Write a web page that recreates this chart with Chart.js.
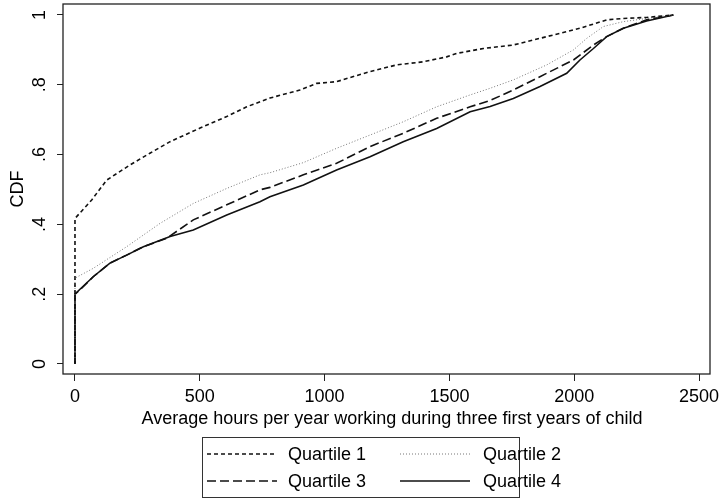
<!DOCTYPE html>
<html>
<head>
<meta charset="utf-8">
<script src="https://cdn.jsdelivr.net/npm/chart.js@4.4.1/dist/chart.umd.min.js"></script>
<style>
  html, body { margin: 0; padding: 0; background: #fff; }
</style>
</head>
<body>
<canvas id="cdfChart" width="719" height="498"></canvas>
<script>
// axis ticks
const xTicks = [0, 500, 1000, 1500, 2000, 2500];
const yTicks = [0, 0.2, 0.4, 0.6, 0.8, 1];
const seriesNames = ['Quartile 1', 'Quartile 2', 'Quartile 3', 'Quartile 4'];
const xTitle = 'Average hours per year working during three first years of child';
const yTitle = 'CDF';

// CDF curves
const q1X = [0, 0, 67, 127, 220, 300, 381, 501, 608, 688, 781, 901, 968, 1048, 1182, 1289, 1396, 1489, 1529, 1636, 1756, 1890, 2023, 2130, 2196, 2290, 2397];
const q1Y = [0, 0.417, 0.47, 0.527, 0.57, 0.604, 0.637, 0.676, 0.709, 0.737, 0.762, 0.785, 0.804, 0.809, 0.838, 0.857, 0.866, 0.88, 0.89, 0.904, 0.914, 0.938, 0.962, 0.986, 0.99, 0.993, 1.0];

const q2X = [0, 0, 73, 207, 341, 474, 608, 741, 781, 915, 1048, 1182, 1315, 1449, 1583, 1663, 1756, 1890, 1997, 2050, 2117, 2197, 2290, 2397];
const q2Y = [0, 0.246, 0.274, 0.336, 0.403, 0.46, 0.503, 0.542, 0.548, 0.577, 0.618, 0.656, 0.694, 0.737, 0.771, 0.79, 0.814, 0.857, 0.9, 0.933, 0.967, 0.981, 0.99, 1.0];

const q3X = [0, 0, 20, 73, 140, 207, 274, 367, 474, 608, 741, 781, 915, 1048, 1182, 1315, 1449, 1583, 1663, 1756, 1890, 1997, 2077, 2130, 2197, 2290, 2397];
const q3Y = [0, 0.2, 0.212, 0.25, 0.289, 0.312, 0.336, 0.36, 0.413, 0.456, 0.499, 0.506, 0.542, 0.575, 0.623, 0.661, 0.704, 0.737, 0.755, 0.785, 0.833, 0.871, 0.914, 0.938, 0.962, 0.986, 1.0];

const q4X = [0, 0, 20, 73, 140, 207, 274, 381, 474, 608, 741, 781, 915, 968, 1048, 1182, 1315, 1449, 1583, 1663, 1756, 1863, 1970, 2023, 2077, 2130, 2197, 2290, 2397];
const q4Y = [0, 0.2, 0.214, 0.25, 0.289, 0.312, 0.336, 0.365, 0.384, 0.427, 0.465, 0.479, 0.513, 0.53, 0.556, 0.594, 0.637, 0.675, 0.723, 0.738, 0.761, 0.795, 0.833, 0.871, 0.904, 0.938, 0.962, 0.983, 1.0];

const FONT = '"Liberation Sans", Arial, Helvetica, sans-serif';

function toPoints(xs, ys) {
  return xs.map((x, i) => ({ x: x, y: ys[i] }));
}

function fmtY(v) {
  if (v === 0) return '0';
  if (v === 1) return '1';
  return String(+v.toFixed(1)).replace('0.', '.');
}

// frame, rotated y labels, axis titles and the boxed legend
const extrasPlugin = {
  id: 'extras',
  afterDraw(chart) {
    const { ctx, chartArea: a, scales } = chart;
    ctx.save();
    ctx.strokeStyle = '#222';
    ctx.lineWidth = 1.3;
    ctx.strokeRect(a.left, a.top, a.right - a.left, a.bottom - a.top);

    ctx.fillStyle = '#000';
    ctx.font = '18px ' + FONT;
    ctx.textAlign = 'center';
    ctx.textBaseline = 'middle';
    yTicks.forEach(v => {
      const py = scales.y.getPixelForValue(v);
      ctx.save();
      ctx.translate(40, py);
      ctx.rotate(-Math.PI / 2);
      ctx.fillText(fmtY(v), 0, 0);
      ctx.restore();
    });
    ctx.save();
    ctx.translate(18, (a.top + a.bottom) / 2);
    ctx.rotate(-Math.PI / 2);
    ctx.fillText(yTitle, 0, 0);
    ctx.restore();
    ctx.fillText(xTitle, 392, 419);

    // legend
    ctx.strokeStyle = '#333';
    ctx.lineWidth = 1;
    ctx.strokeRect(202.5, 437.5, 317, 60);
    const cols = [[207, 277, 288], [400, 470, 483]];
    const rows = [454, 481];
    chart.data.datasets.forEach((ds, i) => {
      const c = cols[i % 2];
      const y = rows[Math.floor(i / 2)];
      ctx.save();
      ctx.strokeStyle = ds.borderColor;
      ctx.lineWidth = ds.borderWidth;
      ctx.setLineDash(ds.borderDash || []);
      ctx.beginPath();
      ctx.moveTo(c[0], y);
      ctx.lineTo(c[1], y);
      ctx.stroke();
      ctx.restore();
      ctx.textAlign = 'left';
      ctx.fillText(ds.label, c[2], y + 1);
    });
    ctx.restore();
  }
};

Chart.defaults.font.family = FONT;
Chart.defaults.font.size = 18;
Chart.defaults.color = '#000';

new Chart(document.getElementById('cdfChart'), {
  type: 'line',
  data: {
    datasets: [
      { label: seriesNames[0], data: toPoints(q1X, q1Y), borderColor: '#111', borderWidth: 1.6, borderDash: [4, 3] },
      { label: seriesNames[1], data: toPoints(q2X, q2Y), borderColor: '#777', borderWidth: 1, borderDash: [1, 2] },
      { label: seriesNames[2], data: toPoints(q3X, q3Y), borderColor: '#111', borderWidth: 1.6, borderDash: [9, 4] },
      { label: seriesNames[3], data: toPoints(q4X, q4Y), borderColor: '#111', borderWidth: 1.6 }
    ]
  },
  options: {
    responsive: false,
    animation: false,
    elements: { point: { radius: 0 }, line: { tension: 0, fill: false } },
    layout: { padding: { top: 4, right: 9, bottom: 70, left: 0 } },
    plugins: { legend: { display: false }, tooltip: { enabled: false } },
    scales: {
      x: {
        type: 'linear',
        min: -48,
        max: 2544,
        afterBuildTicks: s => { s.ticks = xTicks.map(v => ({ value: v })); },
        afterFit: s => { s.height = 54; s.paddingLeft = 0; s.paddingRight = 0; },
        grid: { display: true, drawOnChartArea: false, drawTicks: true, tickLength: 7, color: '#222' },
        border: { display: false },
        ticks: { autoSkip: false, maxRotation: 0, padding: 5, color: '#000', callback: v => String(v) },
        title: { display: false }
      },
      y: {
        type: 'linear',
        min: -0.0287,
        max: 1.0315,
        afterBuildTicks: s => { s.ticks = yTicks.map(v => ({ value: v })); },
        afterFit: s => { s.width = 63; s.paddingTop = 0; s.paddingBottom = 0; },
        grid: { display: true, drawOnChartArea: false, drawTicks: true, tickLength: 6, color: '#222' },
        border: { display: false },
        ticks: { display: false },
        title: { display: false }
      }
    }
  },
  plugins: [extrasPlugin]
});
</script>
</body>
</html>
